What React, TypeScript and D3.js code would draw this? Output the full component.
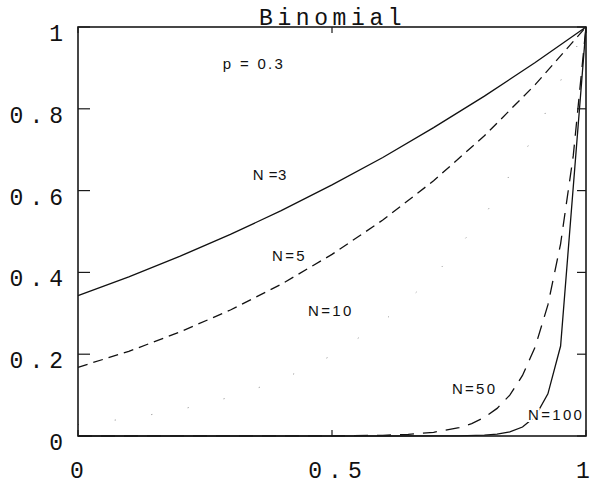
import React from "react";
import * as d3 from "d3";

// x positions (fraction) and read-off curve values
const xsSmallN = [0, 0.1, 0.2, 0.3, 0.4, 0.5, 0.6, 0.7, 0.8, 0.9, 1];
const n3Values = [0.343, 0.389, 0.439, 0.493, 0.551, 0.614, 0.681, 0.754, 0.831, 0.913, 1];
const n5Values = [0.168, 0.207, 0.254, 0.308, 0.371, 0.444, 0.528, 0.624, 0.734, 0.859, 1];
const n10Values = [0.028, 0.043, 0.064, 0.095, 0.137, 0.197, 0.279, 0.389, 0.539, 0.737, 1];

const xsN50 = [0, 0.5, 0.6, 0.65, 0.7, 0.75, 0.775, 0.8, 0.825, 0.85, 0.875, 0.9, 0.925, 0.95, 0.975, 1];
const n50Values = [0, 0.0003, 0.0017, 0.0039, 0.009, 0.0203, 0.0304, 0.0453, 0.0675, 0.1, 0.148, 0.218, 0.3205, 0.47, 0.686, 1];

const xsN100 = [0, 0.6, 0.7, 0.75, 0.8, 0.825, 0.85, 0.875, 0.9, 0.925, 0.95, 1];
const n100Values = [0, 0.000003, 0.00008, 0.0004, 0.002, 0.0046, 0.01, 0.022, 0.0476, 0.103, 0.22, 1];

const yTickValues = [0, 0.2, 0.4, 0.6, 0.8, 1];
const yTickLabels = ["0", "0.2", "0.4", "0.6", "0.8", "1"];
const xTickValues = [0, 0.5, 1];
const xTickLabels = ["0", "0.5", "1"];

const titleText = "Binomial";

const annotationTexts = ["p = 0.3", "N =3", "N=5", "N=10", "N=50", "N=100"];
const annotationX = [0.285, 0.344, 0.382, 0.453, 0.736, 0.886];
const annotationY = [0.897, 0.626, 0.428, 0.293, 0.103, 0.039];

const W = 591;
const H = 484;
const M = { left: 78, right: 5, top: 27, bottom: 48 };

export default function App() {
  const x = d3.scaleLinear().domain([0, 1]).range([M.left, W - M.right]);
  const y = d3.scaleLinear().domain([0, 1]).range([H - M.bottom, M.top]);

  const line = d3
    .line<[number, number]>()
    .x((d) => x(d[0]))
    .y((d) => y(d[1]));

  const zip = (xs: number[], ys: number[]) => xs.map((v, i) => [v, ys[i]] as [number, number]);

  const series = [
    { pts: zip(xsSmallN, n3Values), dash: undefined as string | undefined, color: "#111", w: 1.3 },
    { pts: zip(xsSmallN, n5Values), dash: "10 6", color: "#111", w: 1.3 },
    { pts: zip(xsSmallN, n10Values), dash: "1 36", color: "#888", w: 1 },
    { pts: zip(xsN50, n50Values), dash: "14 9", color: "#111", w: 1.3 },
    { pts: zip(xsN100, n100Values), dash: undefined, color: "#111", w: 1.3 },
  ];

  const mono = "'Liberation Mono', 'DejaVu Sans Mono', monospace";
  const sans = "'Liberation Sans', Arial, sans-serif";
  const x0 = x(0), x1 = x(1), y0 = y(0), y1 = y(1);
  const tickFont = 23;
  const ls = 6;
  const xLabelShift = [-1, 3, -3];

  return (
    <svg
      width={W}
      height={H}
      style={{ position: "absolute", left: 0, top: 0, background: "#fff" }}
    >
      <rect x={0} y={0} width={W} height={H} fill="#fff" />
      {series.map((s, i) => (
        <path
          key={i}
          d={line(s.pts) || ""}
          fill="none"
          stroke={s.color}
          strokeWidth={s.w}
          strokeDasharray={s.dash}
        />
      ))}
      {/* frame */}
      <rect x={x0} y={y1} width={x1 - x0} height={y0 - y1} fill="none" stroke="#1a1a1a" strokeWidth={1.6} />
      {/* y ticks */}
      {yTickValues.map((v, i) => {
        const single = yTickLabels[i].length === 1;
        return (
          <g key={"yt" + i}>
            <line x1={x0} x2={x0 + 12} y1={y(v)} y2={y(v)} stroke="#1a1a1a" strokeWidth={1.2} />
            <line x1={x1} x2={x1 - 9} y1={y(v)} y2={y(v)} stroke="#1a1a1a" strokeWidth={1.2} />
            <text
              x={single ? 63 : 63 + ls}
              y={y(v) + 14}
              textAnchor="end"
              fontFamily={mono}
              fontSize={tickFont}
              letterSpacing={single ? 0 : ls}
              fill="#111"
            >
              {yTickLabels[i]}
            </text>
          </g>
        );
      })}
      {/* x ticks */}
      {xTickValues.map((v, i) => {
        const single = xTickLabels[i].length === 1;
        return (
          <g key={"xt" + i}>
            <line x1={x(v)} x2={x(v)} y1={y0} y2={y0 - 6} stroke="#1a1a1a" strokeWidth={1.2} />
            <line x1={x(v)} x2={x(v)} y1={y1} y2={y1 + 6} stroke="#1a1a1a" strokeWidth={1.2} />
            <text
              x={x(v) + xLabelShift[i] + (single ? 0 : ls / 2)}
              y={478}
              textAnchor="middle"
              fontFamily={mono}
              fontSize={tickFont}
              letterSpacing={single ? 0 : ls}
              fill="#111"
            >
              {xTickLabels[i]}
            </text>
          </g>
        );
      })}
      {/* title */}
      <text x={259} y={25} fontFamily={mono} fontSize={tickFont} letterSpacing={4.6} fill="#111">
        {titleText}
      </text>
      {/* annotations */}
      {annotationTexts.map((t, i) => (
        <text
          key={"an" + i}
          x={x(annotationX[i])}
          y={y(annotationY[i])}
          fontFamily={sans}
          fontSize={15}
          letterSpacing={i === 1 ? 0.5 : 2.3}
          fill="#111"
          stroke="#fff"
          strokeWidth={4}
          paintOrder="stroke"
        >
          {t}
        </text>
      ))}
    </svg>
  );
}
